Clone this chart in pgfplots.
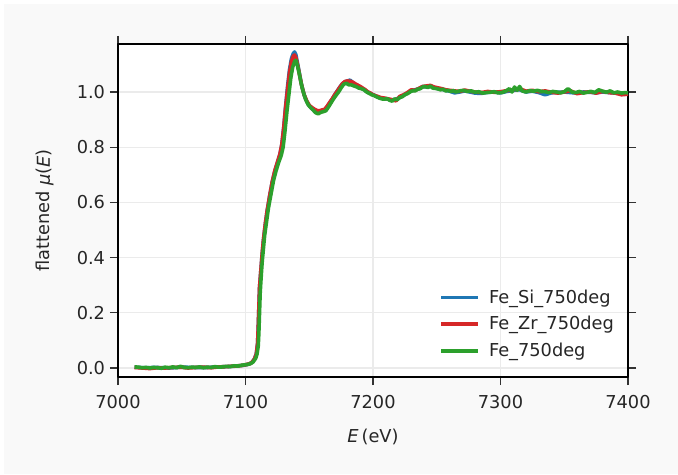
\documentclass[border=0pt]{standalone}
\usepackage{pgfplots}
\pgfplotsset{compat=1.18}
\usetikzlibrary{backgrounds,calc}
\usepackage{fontspec}
\setmainfont{DejaVu Sans}
\definecolor{tabblue}{HTML}{1F77B4}
\definecolor{tabred}{HTML}{D62728}
\definecolor{tabgreen}{HTML}{2CA02C}
\definecolor{figbg}{HTML}{F9F9F9}
\definecolor{gridc}{HTML}{EBEBEB}

% Fe K-edge, flattened spectra
\pgfplotstableread{
E mu
7013 0.003
7020 0.001
7030 0.002
7040 0.000
7050 0.003
7060 0.002
7070 0.002
7080 0.004
7090 0.006
7097 0.009
7100 0.011
7103 0.015
7105 0.020
7107 0.033
7108.5 0.052
7109.5 0.090
7110 0.150
7110.5 0.220
7111 0.290
7112 0.350
7113 0.410
7114 0.460
7115.5 0.520
7117 0.570
7119 0.625
7121 0.675
7123 0.713
7125 0.744
7127 0.774
7128.5 0.810
7130 0.872
7131.5 0.950
7133 1.020
7134.5 1.080
7136 1.120
7137.5 1.140
7138.5 1.145
7139.5 1.135
7141 1.100
7142.5 1.062
7144 1.025
7146 0.990
7148 0.966
7150 0.950
7152 0.940
7154 0.934
7156 0.929
7158 0.928
7160 0.931
7162 0.934
7164 0.946
7166 0.960
7168 0.974
7170 0.990
7172 1.004
7174 1.018
7176 1.030
7178 1.037
7180 1.040
7182 1.043
7184 1.035
7186 1.028
7188 1.022
7190 1.017
7192 1.012
7194 1.005
7196 1.000
7198 0.995
7200 0.990
7203 0.984
7206 0.978
7209 0.976
7212 0.974
7215 0.970
7218 0.974
7221 0.980
7224 0.988
7227 0.996
7230 1.004
7233 1.008
7236 1.012
7239 1.020
7242 1.018
7245 1.020
7248 1.016
7251 1.012
7254 1.010
7257 1.006
7260 1.003
7264 0.997
7268 1.000
7272 1.004
7276 1.000
7280 0.996
7285 0.995
7290 0.999
7295 1.000
7300 0.997
7305 1.002
7310 1.006
7315 1.008
7320 1.000
7325 1.003
7330 0.998
7335 0.990
7340 0.997
7345 0.999
7350 1.000
7355 0.998
7360 0.996
7365 1.000
7370 0.999
7375 0.997
7380 1.000
7385 0.998
7390 0.996
7395 0.994
7400 0.995
}\FeSi

\pgfplotstableread{
E mu
7013 0.002
7019 0.000
7025 -0.002
7031 0.001
7037 0.000
7043 0.002
7049 0.003
7055 0.000
7061 0.002
7067 0.003
7073 0.001
7079 0.004
7085 0.005
7091 0.007
7097 0.009
7100 0.012
7103 0.015
7105 0.020
7107 0.032
7108.5 0.050
7109.5 0.090
7110 0.150
7110.5 0.220
7111 0.290
7112 0.350
7113 0.410
7114 0.460
7115.5 0.520
7117 0.570
7119 0.625
7121 0.675
7123 0.715
7125 0.745
7127 0.775
7128.5 0.810
7130 0.870
7131.5 0.945
7133 1.010
7134.5 1.070
7136 1.110
7137.5 1.130
7138.5 1.134
7139.5 1.125
7141 1.095
7142.5 1.060
7144 1.025
7146 0.990
7148 0.968
7150 0.952
7152 0.944
7154 0.938
7156 0.933
7158 0.932
7160 0.935
7162 0.937
7164 0.948
7166 0.962
7168 0.975
7170 0.990
7172 1.003
7174 1.017
7176 1.030
7178 1.038
7180 1.040
7182 1.039
7184 1.036
7186 1.030
7188 1.025
7190 1.020
7192 1.014
7194 1.008
7196 1.000
7198 0.996
7200 0.990
7203 0.985
7206 0.980
7209 0.978
7212 0.975
7215 0.972
7218 0.968
7221 0.984
7224 0.990
7227 0.998
7230 1.008
7233 1.006
7236 1.013
7239 1.020
7242 1.022
7245 1.024
7248 1.018
7251 1.015
7254 1.012
7257 1.008
7260 1.006
7264 1.004
7268 1.002
7272 1.007
7276 1.003
7280 1.000
7285 0.998
7290 1.002
7295 0.999
7300 1.001
7305 1.005
7310 1.008
7315 1.012
7320 1.003
7325 1.006
7330 1.001
7335 1.004
7340 0.999
7345 0.996
7350 1.000
7355 1.004
7360 0.994
7365 0.998
7370 1.001
7375 0.996
7380 1.002
7385 0.998
7390 0.996
7395 0.990
7400 0.992
}\FeZr

\pgfplotstableread{
E mu
7013 0.004
7016 0.003
7019 0.001
7022 0.002
7025 0.000
7028 0.002
7031 0.001
7034 -0.001
7037 0.003
7040 0.001
7043 0.004
7046 0.001
7049 0.006
7052 0.002
7055 0.001
7058 0.003
7061 0.002
7064 0.004
7067 0.001
7070 0.003
7073 0.002
7076 0.005
7079 0.003
7082 0.004
7085 0.006
7088 0.005
7091 0.008
7094 0.007
7097 0.010
7100 0.012
7102 0.013
7104 0.016
7106 0.022
7108 0.035
7109 0.050
7110 0.080
7110.5 0.130
7111 0.200
7111.5 0.270
7112 0.310
7113 0.380
7114 0.430
7115 0.480
7116.5 0.530
7118 0.580
7120 0.630
7122 0.680
7124 0.715
7126 0.745
7128 0.770
7129.5 0.800
7131 0.860
7132.5 0.930
7134 0.990
7135.5 1.050
7137 1.090
7138.5 1.110
7139.5 1.115
7140.5 1.100
7142 1.070
7143.5 1.035
7145 1.005
7147 0.975
7149 0.955
7151 0.944
7153 0.935
7155 0.925
7157 0.921
7159 0.926
7161 0.929
7163 0.932
7165 0.945
7167 0.960
7169 0.975
7171 0.988
7173 1.000
7175 1.015
7177 1.028
7179 1.032
7181 1.026
7183 1.026
7185 1.022
7187 1.019
7189 1.014
7191 1.012
7193 1.008
7195 1.000
7197 0.995
7199 0.990
7201 0.987
7203 0.982
7205 0.978
7207 0.975
7209 0.974
7211 0.976
7213 0.970
7215 0.967
7217 0.975
7219 0.972
7221 0.980
7223 0.983
7225 0.990
7227 0.994
7229 1.000
7231 1.005
7233 1.004
7235 1.010
7237 1.012
7239 1.018
7241 1.020
7243 1.016
7245 1.022
7247 1.014
7249 1.013
7251 1.011
7253 1.008
7255 1.010
7257 1.004
7259 1.006
7261 1.002
7263 1.005
7265 1.000
7268 1.004
7271 1.006
7274 1.002
7277 1.004
7280 0.999
7283 1.001
7286 0.996
7289 0.998
7292 0.999
7295 1.001
7298 0.997
7301 0.998
7304 1.003
7307 1.012
7309 1.000
7311 1.018
7313 1.006
7315 1.020
7317 1.004
7320 1.000
7323 1.005
7326 1.003
7329 1.006
7332 1.002
7335 1.001
7338 0.998
7341 1.002
7344 1.000
7347 0.997
7350 1.001
7353 1.012
7356 1.000
7359 0.998
7362 1.002
7365 0.996
7368 0.999
7371 1.002
7374 0.998
7377 1.008
7380 1.003
7383 0.999
7386 1.004
7389 0.997
7392 1.000
7395 0.996
7398 0.998
7400 0.997
}\FeOnly

\begin{document}
\begin{tikzpicture}
\begin{axis}[
    name=ax,
    scale only axis,
    width=367.2pt, height=239.76pt,
    xmin=7000, xmax=7400,
    ymin=-0.0326, ymax=1.1739,
    xtick={7000,7100,...,7400},
    ytick={0,0.2,...,1.0},
    axis background/.style={fill=white},
    tick align=outside,
    tick pos=both,
    major tick length=5.8pt,
    every tick/.style={black!80, line width=0.9pt},
    axis line style={line width=1pt},
    grid=major,
    major grid style={gridc, line width=1pt},
    /pgf/number format/assume math mode=true,
    xticklabel style={/pgf/number format/1000 sep={}, yshift=-3.5pt},
    yticklabel style={/pgf/number format/.cd, fixed, fixed zerofill, precision=1},
    tick label style={font=\fontsize{12.8}{15}\selectfont, text=black!85},
    xlabel={\textit{E}\,(eV)},
    ylabel={flattened \textit{μ}(\textit{E})},
    every axis x label/.style={at={(axis description cs:0.5,-0.18)}, anchor=center,
        font=\fontsize{12.8}{15}\selectfont, text=black!85},
    every axis y label/.style={at={(axis description cs:-0.143,0.5)}, rotate=90, anchor=center,
        font=\fontsize{12.8}{15}\selectfont, text=black!85},
    legend style={at={(axis cs:7252,0.295)}, anchor=north west, draw=none, fill=none,
        inner sep=0pt,
        font=\fontsize{12.8}{15}\selectfont, text=black!85,
        row sep=4pt, cells={anchor=west}},
    legend image code/.code={\draw[#1, line width=2.6pt] (0pt,0pt) -- (26.6pt,0pt); \path (31pt,0pt);},
    line join=round,
]
\addplot[tabblue, line width=2.6pt] table[x=E,y=mu] {\FeSi};
\addlegendentry{Fe\_Si\_750deg}
\addplot[tabred, line width=2.6pt] table[x=E,y=mu] {\FeZr};
\addlegendentry{Fe\_Zr\_750deg}
\addplot[tabgreen, line width=2.6pt] table[x=E,y=mu] {\FeOnly};
\addlegendentry{Fe\_750deg}
\end{axis}
\begin{scope}[on background layer, x=0.72pt, y=0.72pt]
\fill[white] ($(ax.south west)+(-118,-97)$) rectangle +(678,474);
\fill[figbg] ($(ax.south west)+(-114,-97)$) rectangle +(674,470);
\end{scope}
\end{tikzpicture}
\end{document}
